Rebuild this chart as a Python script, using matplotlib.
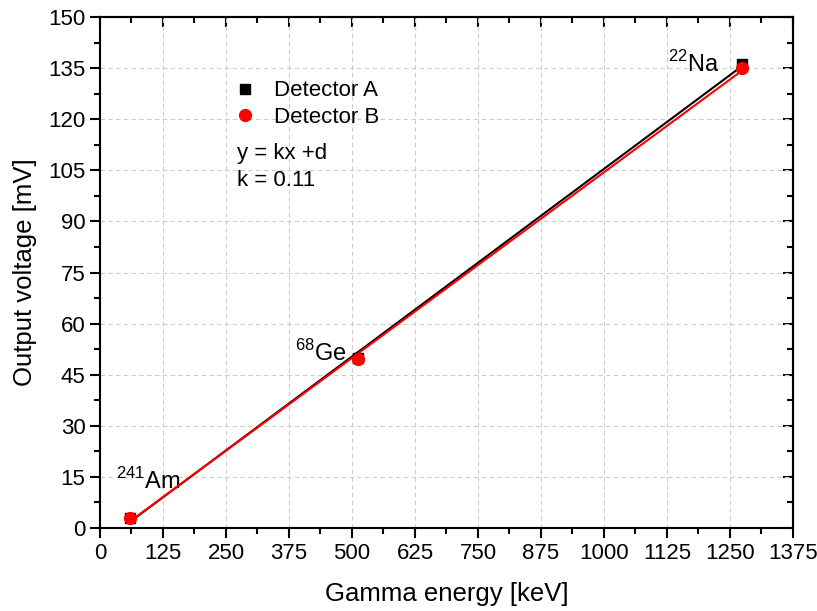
import numpy as np
import matplotlib.pyplot as plt
from matplotlib.ticker import MultipleLocator

plt.rcParams['font.family'] = ['Liberation Sans', 'DejaVu Sans']
plt.rcParams['mathtext.fontset'] = 'custom'
plt.rcParams['mathtext.rm'] = 'Liberation Sans'

energy_kev = [59.5, 511.0, 1274.5]
volt_a = [2.9, 49.8, 136.3]
volt_b = [2.9, 49.6, 134.9]
source_labels = [r'$^{241}$Am', r'$^{68}$Ge', r'$^{22}$Na']
label_pos = [(32, 11.5), (386, 49.0), (1128, 133.8)]

fig = plt.figure(figsize=(8.17, 6.11), dpi=100)
ax = fig.add_axes([0.1224, 0.1358, 0.8482, 0.8364])

ka, da = np.polyfit(energy_kev, volt_a, 1)
kb, db = np.polyfit(energy_kev, volt_b, 1)
xs = np.array([min(energy_kev), max(energy_kev)])
ax.plot(xs, ka * xs + da, color='black', lw=1.5, zorder=3)
ax.plot(xs, kb * xs + db, color='red', lw=1.5, zorder=4)
ax.plot(energy_kev, volt_a, 's', color='black', ms=7.5, ls='none', label='Detector A', zorder=5)
ax.plot(energy_kev, volt_b, 'o', color='red', ms=8.5, ls='none', label='Detector B', zorder=6)

for txt, (x, y) in zip(source_labels, label_pos):
    ax.text(x, y, txt, fontsize=17, ha='left', va='baseline')

ax.legend(loc='upper left', bbox_to_anchor=(0.165, 0.915), frameon=False, fontsize=16,
          handletextpad=0.8, labelspacing=0.25, handlelength=1.0)
ax.text(0.197, 0.732, 'y = kx +d', transform=ax.transAxes, fontsize=16, va='center')
ax.text(0.197, 0.680, 'k = 0.11', transform=ax.transAxes, fontsize=16, va='center')

ax.set_xlim(0, 1375)
ax.set_ylim(0, 150)
ax.xaxis.set_major_locator(MultipleLocator(125))
ax.xaxis.set_minor_locator(MultipleLocator(62.5))
ax.yaxis.set_major_locator(MultipleLocator(15))
ax.yaxis.set_minor_locator(MultipleLocator(7.5))
ax.grid(True, which='major', ls=(0, (4, 3)), color='#cccccc', lw=0.8)
ax.set_axisbelow(True)

ax.tick_params(which='both', direction='out', top=False, right=False, labelsize=16, width=1.5)
ax.tick_params(which='major', length=7)
ax.tick_params(which='minor', length=4)
for side in ['top', 'right']:
    sec = ax.secondary_xaxis('top') if side == 'top' else ax.secondary_yaxis('right')
    sec.tick_params(which='both', direction='in', width=1.5)
    sec.tick_params(which='major', length=7)
    sec.tick_params(which='minor', length=4)
    if side == 'top':
        sec.xaxis.set_major_locator(MultipleLocator(125))
        sec.xaxis.set_minor_locator(MultipleLocator(62.5))
        sec.set_xticklabels([])
    else:
        sec.yaxis.set_major_locator(MultipleLocator(15))
        sec.yaxis.set_minor_locator(MultipleLocator(7.5))
        sec.set_yticklabels([])
    for sp in sec.spines.values():
        sp.set_linewidth(1.5)
for sp in ax.spines.values():
    sp.set_linewidth(1.5)

ax.set_xlabel('Gamma energy [keV]', fontsize=18.5, labelpad=13)
ax.set_ylabel('Output voltage [mV]', fontsize=18.5, labelpad=8)

fig.savefig('out.png', dpi=100)
